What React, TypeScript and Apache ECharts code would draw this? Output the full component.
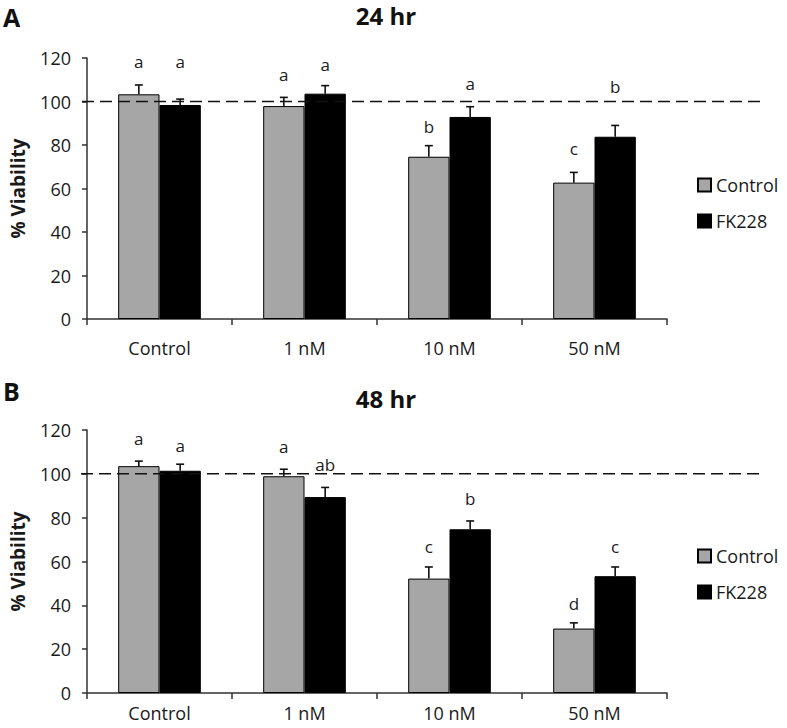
import React, { useEffect, useRef } from "react";
import * as echarts from "echarts";

const categories = ["Control", "1 nM", "10 nM", "50 nM"];
const seriesNames = ["Control", "FK228"];
const yTicks = { min: 0, max: 120, interval: 20 };
const referenceLine = 100;

// 24 hr panel
const a_control = [103.3, 97.9, 74.6, 62.7];
const a_controlErr = [4.3, 4.0, 5.1, 4.7];
const a_fk = [98.4, 103.6, 92.9, 83.8];
const a_fkErr = [2.7, 3.7, 4.7, 5.2];
const a_controlLetters = ["a", "a", "b", "c"];
const a_controlLetterY = [118.3, 112.2, 88.4, 78.2];
const a_fkLetters = ["a", "a", "a", "b"];
const a_fkLetterY = [118.3, 117.2, 108.5, 107.1];

// 48 hr panel
const b_control = [103.5, 98.9, 52.2, 29.4];
const b_controlErr = [2.3, 3.2, 5.3, 2.6];
const b_fk = [101.4, 89.4, 74.7, 53.3];
const b_fkErr = [3.0, 4.4, 3.8, 4.2];
const b_controlLetters = ["a", "a", "c", "d"];
const b_controlLetterY = [116.1, 112.6, 66.7, 40.8];
const b_fkLetters = ["a", "ab", "b", "c"];
const b_fkLetterY = [113.1, 104.3, 88.8, 66.7];

const FONT = "'Open Sans', sans-serif";
const CAT_GAP = 0.43;
const TXT = "#1a1a1a";

function barSeries(name: string, data: number[], color: string, axisIdx: number) {
  return {
    type: "bar",
    name,
    data,
    xAxisIndex: axisIdx,
    yAxisIndex: axisIdx,
    barGap: "0%",
    barCategoryGap: CAT_GAP * 100 + "%",
    itemStyle: { color, borderColor: "#000", borderWidth: 1 },
    z: 2,
  };
}

function errSeries(
  values: number[],
  errs: number[],
  letters: string[],
  letterY: number[],
  side: number,
  axisIdx: number
) {
  return {
    type: "custom",
    xAxisIndex: axisIdx,
    yAxisIndex: axisIdx,
    z: 5,
    silent: true,
    data: values.map((v, i) => [i, v, errs[i], letterY[i]]),
    renderItem: (params: any, api: any) => {
      const i = api.value(0);
      const v = api.value(1);
      const e = api.value(2);
      const ly = api.value(3);
      const band = api.size([1, 0])[0];
      const off = ((band * (1 - CAT_GAP)) / 4) * side;
      const base = api.coord([i, v]);
      const top = api.coord([i, v + e]);
      const lab = api.coord([i, ly]);
      const x = base[0] + off;
      return {
        type: "group",
        children: [
          {
            type: "line",
            shape: { x1: x, y1: base[1], x2: x, y2: top[1] },
            style: { stroke: "#111", lineWidth: 1.6 },
          },
          {
            type: "line",
            shape: { x1: x - 4, y1: top[1], x2: x + 4, y2: top[1] },
            style: { stroke: "#111", lineWidth: 1.6 },
          },
          {
            type: "text",
            x,
            y: lab[1],
            style: {
              text: letters[params.dataIndex],
              fontSize: 17,
              fill: TXT,
              align: "center",
              verticalAlign: "middle",
              fontFamily: FONT,
            },
          },
        ],
      };
    },
  };
}

export default function App() {
  const ref = useRef<HTMLDivElement>(null);
  useEffect(() => {
    if (!ref.current) return;
    const chart = echarts.init(ref.current, null, { renderer: "svg" });

    const axisLine = { show: true, lineStyle: { color: "#333", width: 1.5 } };
    const mainX = (gridIndex: number, margin: number) => ({
      type: "category",
      gridIndex,
      data: categories,
      axisLine,
      axisTick: { show: true, alignWithLabel: false, length: 6, inside: false, lineStyle: { color: "#333", width: 1.5 } },
      axisLabel: { fontSize: 18, color: TXT, fontFamily: FONT, margin, lineHeight: 18 },
    });
    const mainY = (gridIndex: number) => ({
      type: "value",
      gridIndex,
      min: yTicks.min,
      max: yTicks.max,
      interval: yTicks.interval,
      axisLine,
      axisTick: { show: true, length: 5, lineStyle: { color: "#333", width: 1.5 } },
      splitLine: { show: false },
      axisLabel: { fontSize: 18, color: TXT, fontFamily: FONT, margin: 16 },
      name: "% Viability",
      nameLocation: "middle",
      nameRotate: 90,
      nameGap: 60,
      nameTextStyle: { fontSize: 19, fontWeight: "bold", color: TXT, fontFamily: FONT },
    });
    const hidX = (gridIndex: number) => ({ type: "value", gridIndex, min: 0, max: 1, show: false });
    const hidY = (gridIndex: number) => ({
      type: "value",
      gridIndex,
      min: yTicks.min,
      max: yTicks.max,
      show: false,
    });
    const dash = (axisIdx: number) => ({
      type: "line",
      xAxisIndex: axisIdx,
      yAxisIndex: axisIdx,
      data: [
        [0, referenceLine],
        [1, referenceLine],
      ],
      symbol: "none",
      silent: true,
      z: 3,
      lineStyle: { color: "#111", width: 1.5, type: [12, 6] },
    });
    const legend = (top: number) => ({
      orient: "vertical",
      left: 692,
      top,
      itemWidth: 13,
      itemHeight: 13,
      itemGap: 16,
      icon: "rect",
      data: seriesNames,
      textStyle: { fontSize: 18, color: TXT, fontFamily: FONT, lineHeight: 20 },
    });

    chart.setOption({
      animation: false,
      grid: [
        { left: 82, top: 58, width: 585, height: 261 },
        { left: 82, top: 58, width: 683, height: 261 },
        { left: 81, top: 430, width: 586, height: 263 },
        { left: 81, top: 430, width: 684, height: 263 },
      ],
      xAxis: [mainX(0, 20), hidX(1), mainX(2, 11), hidX(3)],
      yAxis: [mainY(0), hidY(1), mainY(2), hidY(3)],
      legend: [legend(170), legend(541)],
      graphic: [
        { type: "text", left: 3, top: 4, style: { text: "A", fontSize: 25, fontWeight: "bold", fill: "#111", fontFamily: FONT } },
        { type: "text", left: 3, top: 378, style: { text: "B", fontSize: 25, fontWeight: "bold", fill: "#111", fontFamily: FONT } },
        { type: "text", x: 386, y: 15, style: { text: "24 hr", fontSize: 24, fontWeight: "bold", fill: "#111", fontFamily: FONT, align: "center", verticalAlign: "middle" } },
        { type: "text", x: 386, y: 398, style: { text: "48 hr", fontSize: 24, fontWeight: "bold", fill: "#111", fontFamily: FONT, align: "center", verticalAlign: "middle" } },
      ],
      series: [
        barSeries(seriesNames[0], a_control, "#a6a6a6", 0),
        barSeries(seriesNames[1], a_fk, "#000000", 0),
        errSeries(a_control, a_controlErr, a_controlLetters, a_controlLetterY, -1, 0),
        errSeries(a_fk, a_fkErr, a_fkLetters, a_fkLetterY, 1, 0),
        dash(1),
        barSeries(seriesNames[0], b_control, "#a6a6a6", 2),
        barSeries(seriesNames[1], b_fk, "#000000", 2),
        errSeries(b_control, b_controlErr, b_controlLetters, b_controlLetterY, -1, 2),
        errSeries(b_fk, b_fkErr, b_fkLetters, b_fkLetterY, 1, 2),
        dash(3),
      ],
    });
    return () => chart.dispose();
  }, []);
  return (
    <div
      ref={ref}
      style={{ position: "fixed", left: 0, top: 0, width: 787, height: 728, background: "#fff" }}
    />
  );
}
